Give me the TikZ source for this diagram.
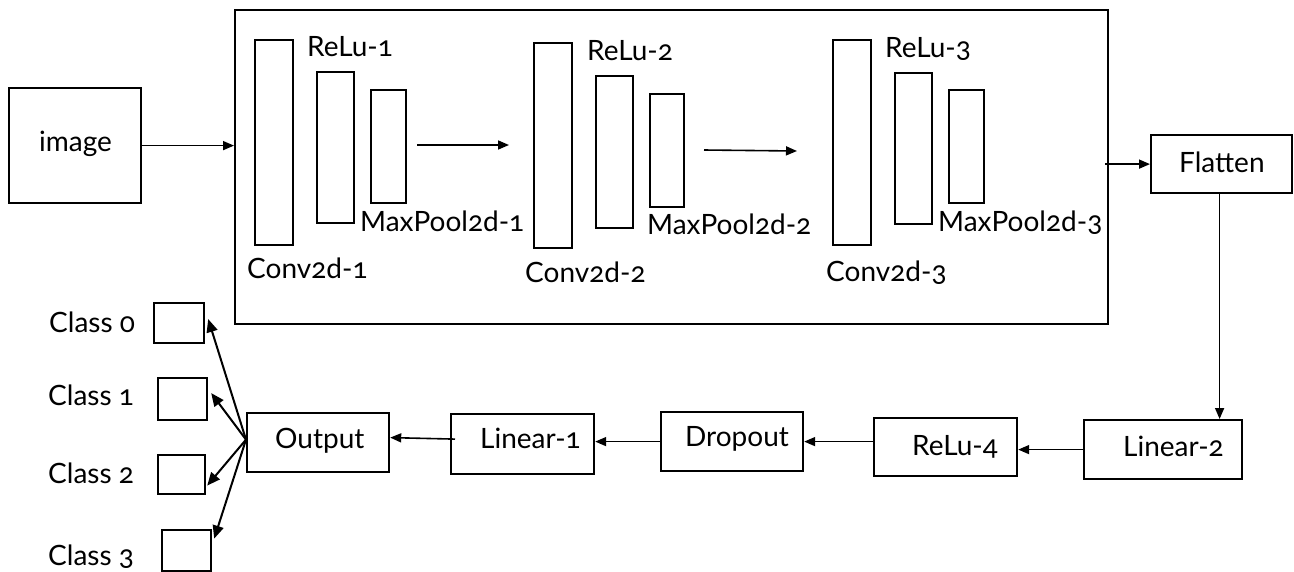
\documentclass[tikz,border=0pt]{standalone}
\usepackage{fontspec}
\setmainfont{Lato}[Numbers=OldStyle]
\usetikzlibrary{arrows.meta,calc}

\begin{document}
\begin{tikzpicture}[x=1pt,y=-1pt,
  box/.style={draw,line width=2.2pt,inner sep=0pt,anchor=north west},
  lbl/.style={anchor=base west,inner sep=0pt,font=\fontsize{28}{30}\selectfont},
  conn/.style={line width=1.6pt,-{Triangle[length=11pt,width=9pt]}},
  fanarrow/.style={line width=2pt,-{Triangle[length=13pt,width=11pt]}}]

\useasboundingbox (0,0) rectangle (1294,571);

% ---------- blocks ----------
\node[box,minimum width=132,minimum height=115] (img) at (8,87) {};
\node[box,minimum width=873,minimum height=314] (big) at (234,9) {};

% convolution stages: conv / relu / pool bars
\node[box,minimum width=38,minimum height=205] (conv1) at (254,39) {};
\node[box,minimum width=37,minimum height=151] (relu1) at (316,71) {};
\node[box,minimum width=35,minimum height=113] (mp1)   at (370,89) {};
\node[box,minimum width=38,minimum height=205] (conv2) at (533,42) {};
\node[box,minimum width=37,minimum height=152] (relu2) at (595,75) {};
\node[box,minimum width=34,minimum height=113] (mp2)   at (649,93) {};
\node[box,minimum width=38,minimum height=205] (conv3) at (832,39) {};
\node[box,minimum width=37,minimum height=151] (relu3) at (894,72) {};
\node[box,minimum width=35,minimum height=113] (mp3)   at (948,89) {};

\node[box,minimum width=141,minimum height=58] (flat)  at (1150,134) {};
\node[box,minimum width=158,minimum height=59] (lin2)  at (1083,419) {};
\node[box,minimum width=143,minimum height=58] (relu4) at (873,417) {};
\node[box,minimum width=142,minimum height=59] (drop)  at (660,411) {};
\node[box,minimum width=143,minimum height=60] (lin1)  at (450,413) {};
\node[box,minimum width=142,minimum height=59] (out)   at (246,412) {};

% class outputs
\node[box,minimum width=50,minimum height=40] (c0) at (153,302) {};
\node[box,minimum width=49,minimum height=42] (c1) at (157,377) {};
\node[box,minimum width=47,minimum height=39] (c2) at (157,454) {};
\node[box,minimum width=49,minimum height=41] (c3) at (161,529) {};

% ---------- texts ----------
\node[lbl] (t-img)   at (39,151)   {image};
\node[lbl] (t-relu1) at (307,56)   {ReLu-1};
\node[lbl] (t-mp1)   at (360,231)  {MaxPool2d-1};
\node[lbl] (t-conv1) at (247,278)  {Conv2d-1};
\node[lbl] (t-relu2) at (587,60)   {ReLu-2};
\node[lbl] (t-mp2)   at (647,234)  {MaxPool2d-2};
\node[lbl] (t-conv2) at (525,282)  {Conv2d-2};
\node[lbl] (t-relu3) at (885,57)   {ReLu-3};
\node[lbl] (t-mp3)   at (938,231)  {MaxPool2d-3};
\node[lbl] (t-conv3) at (826,281)  {Conv2d-3};
\node[lbl] (t-flat)  at (1179,172) {Flatten};
\node[lbl] (t-out)   at (275,448)  {Output};
\node[lbl] (t-lin1)  at (480,448)  {Linear-1};
\node[lbl] (t-drop)  at (685,446)  {Dropout};
\node[lbl] (t-relu4) at (912,455)  {ReLu-4};
\node[lbl] (t-lin2)  at (1123,456) {Linear-2};
\node[lbl] (t-c0)    at (49,332)   {Class 0};
\node[lbl] (t-c1)    at (48,405)   {Class 1};
\node[lbl] (t-c2)    at (48,483)   {Class 2};
\node[lbl] (t-c3)    at (48,565)   {Class 3};

% ---------- connectors ----------
\draw[conn] (img.east) -- (img.east -| big.west);
\coordinate (s1a) at (417,145);
\coordinate (s1b) at (509,145);
\draw[conn] (s1a) -- (s1b);
\coordinate (s2a) at (704,150);
\coordinate (s2b) at (797,151);
\draw[conn] (s2a) -- (s2b);
\draw[conn] ([xshift=-4pt]flat.west -| big.east) -- (flat.west);
\draw[conn] ([xshift=-2pt]flat.south) -- ([xshift=-2pt]flat.south |- lin2.north);
\draw[conn] (lin2.west) -- (lin2.west -| relu4.east);
\draw[conn] (relu4.west |- drop.east) -- (drop.east);
\draw[conn] (drop.west) -- (drop.west -| lin1.east);
\draw[conn] ([xshift=5pt,yshift=5pt]lin1.west) -- ([yshift=5pt]out.east);

\coordinate (fan) at ([yshift=3pt]out.west);
\draw[fanarrow] (fan) -- ([xshift=3pt,yshift=4pt]c0.east);
\draw[fanarrow] (fan) -- ([xshift=3pt,yshift=6pt]c1.east);
\draw[fanarrow] (fan) -- ([xshift=1pt,yshift=-11pt]c2.east);
\draw[fanarrow] (fan) -- ([xshift=2pt,yshift=12pt]c3.east);
\end{tikzpicture}
\end{document}
